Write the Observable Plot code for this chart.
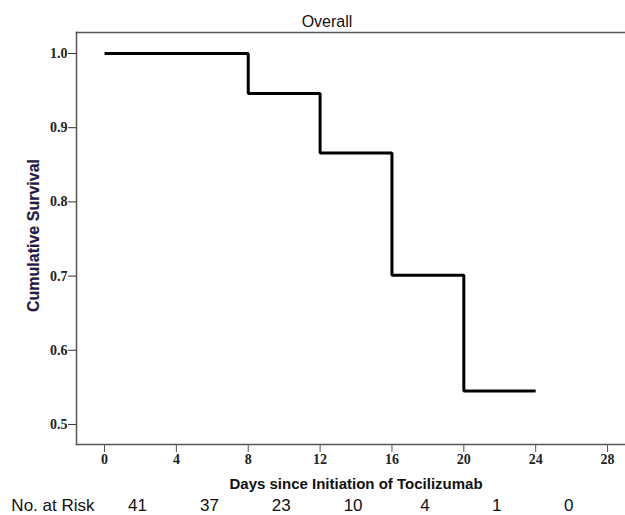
<!DOCTYPE html>
<html>
<head>
<meta charset="utf-8">
<script src="https://cdn.jsdelivr.net/npm/d3@7"></script>
<script src="https://cdn.jsdelivr.net/npm/@observablehq/plot@0.6"></script>
<style>
  html, body { margin: 0; padding: 0; background: #fff; }
  svg { display: block; }
</style>
</head>
<body>
<div id="chart"></div>
<script>
// Kaplan-Meier step values
const days = [0, 8, 12, 16, 20, 24];
const survival = [1.0, 0.946, 0.866, 0.701, 0.545, 0.545];
// Axis ticks
const xTicks = [0, 4, 8, 12, 16, 20, 24, 28];
const yTicks = [0.5, 0.6, 0.7, 0.8, 0.9, 1.0];
// Number at risk
const riskDays = [0, 4, 8, 12, 16, 20, 24];
const riskCounts = [41, 37, 23, 10, 4, 1, 0];

const title = "Overall";
const xLabel = "Days since Initiation of Tocilizumab";
const yLabel = "Cumulative Survival";
const riskLabel = "No. at Risk";

const curve = days.map((d, i) => ({day: d, s: survival[i]}));
const risk = riskDays.map((d, i) => ({day: d, n: riskCounts[i]}));

const chart = Plot.plot({
  width: 625,
  height: 515,
  marginLeft: 76,
  marginTop: 32,
  marginRight: 0,
  marginBottom: 71,
  style: {background: "#fff", overflow: "visible"},
  x: {domain: [-1.56, 29.0], ticks: xTicks, label: null},
  y: {domain: [0.473, 1.0283], ticks: yTicks, label: null},
  marks: [
    Plot.frame({anchor: "top", stroke: "#555", strokeWidth: 1.5}),
    Plot.frame({anchor: "left", stroke: "#555", strokeWidth: 1.5}),
    Plot.frame({anchor: "bottom", stroke: "#555", strokeWidth: 1.5}),
    Plot.axisY({ticks: yTicks, tickFormat: d3.format(".1f"), tickSize: 8, tickPadding: 1,
      fontFamily: "Liberation Serif", fontWeight: "bold", fontSize: 14, stroke: "#333", color: "#222", label: null}),
    Plot.axisX({ticks: xTicks, tickSize: 8, tickPadding: 2,
      fontFamily: "Liberation Serif", fontWeight: "bold", fontSize: 14, stroke: "#555", color: "#222", label: null}),
    Plot.line(curve, {x: "day", y: "s", curve: "step-after", stroke: "#000", strokeWidth: 3, strokeLinejoin: "miter", strokeLinecap: "butt"}),
    Plot.text([title], {frameAnchor: "top", text: d => d, dx: -24, dy: -6, lineAnchor: "bottom",
      fontFamily: "Liberation Sans", fontSize: 16, fontWeight: 500, fill: "#111"}),
    Plot.text([yLabel], {frameAnchor: "left", text: d => d, textAnchor: "middle", rotate: -90, dx: -43, dy: -3,
      fontFamily: "Liberation Sans", fontSize: 16, fontWeight: "bold", fill: "#1c1c55",
      stroke: "#d9a050", strokeWidth: 0.4}),
    Plot.text([xLabel], {frameAnchor: "bottom", text: d => d, dx: 5, dy: 44, lineAnchor: "bottom",
      fontFamily: "Liberation Sans", fontSize: 15, fontWeight: "bold", fill: "#111"}),
    Plot.text([riskLabel], {frameAnchor: "bottom-left", text: d => d, textAnchor: "end", dx: 18, dy: 66, lineAnchor: "bottom",
      fontFamily: "Liberation Sans", fontSize: 17, fill: "#111"}),
    Plot.text(risk, {x: "day", text: "n", frameAnchor: "bottom", dx: 33, dy: 66, lineAnchor: "bottom",
      fontFamily: "Liberation Sans", fontSize: 17, fill: "#111"})
  ]
});
document.getElementById("chart").appendChild(chart);
</script>
</body>
</html>
